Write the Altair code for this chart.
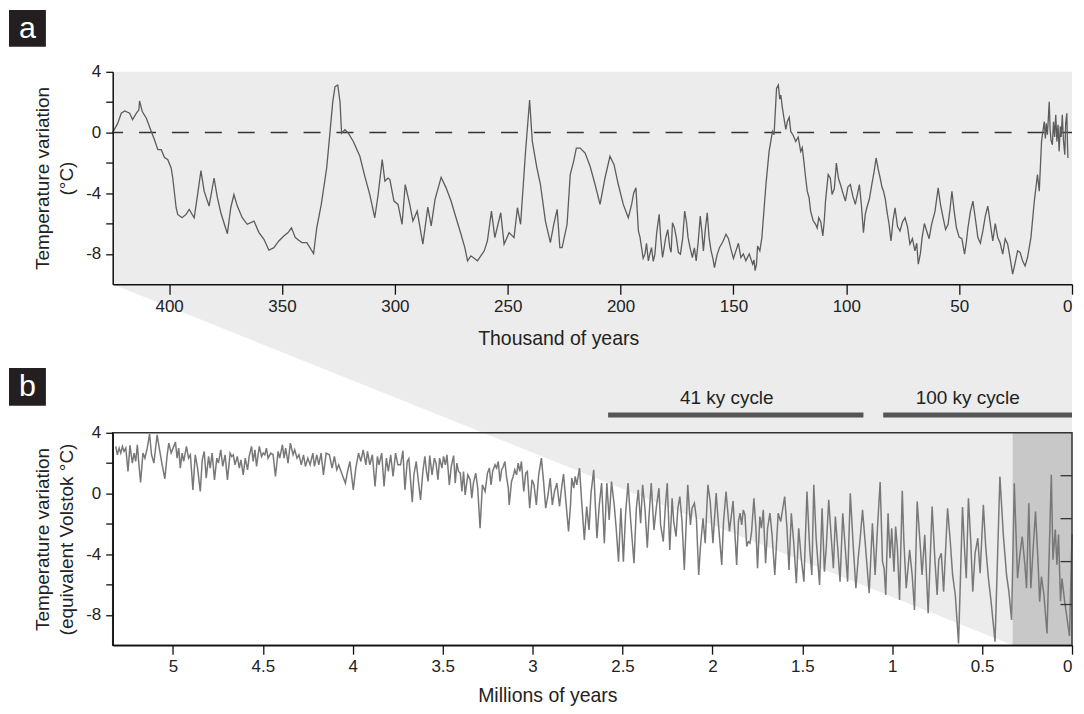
import altair as alt
import pandas as pd

# ---------------- data ----------------
# Panel a: Vostok temperature record, last 425 thousand years (age ky, dT)
A_SEG_OLD = [
    (425.0, 0.00), (422.8, 0.60), (421.2, 1.27), (419.7, 1.42), (417.5, 1.27), (416.2, 0.85), (414.5, 1.27), (413.4, 1.49), (413.1, 2.08), (411.9, 1.38),
    (410.1, 0.94), (407.9, 0.07), (406.5, -0.48), (405.0, -1.13), (403.5, -1.13), (402.1, -1.64), (400.6, -1.79), (399.1, -2.34), (398.4, -3.00), (396.9, -4.96),
    (396.2, -5.40), (394.3, -5.62), (392.5, -5.40), (391.1, -5.07), (388.9, -5.62), (387.4, -4.09), (385.9, -2.51), (384.5, -3.87), (382.3, -4.85), (380.1, -3.00),
    (378.6, -4.31), (377.1, -5.29), (374.2, -6.67), (372.7, -4.96), (371.3, -4.09), (369.8, -4.85), (367.6, -5.62), (365.4, -6.05), (362.4, -5.84), (360.2, -6.60),
    (358.0, -7.04), (355.8, -7.76), (353.6, -7.59), (351.4, -7.15), (349.2, -6.82), (347.3, -6.60), (345.8, -6.28), (344.1, -6.93), (342.6, -7.10), (341.2, -7.26),
    (339.0, -7.26), (336.0, -7.98), (334.6, -6.28), (332.6, -4.74), (330.2, -2.34), (328.7, 0.07), (327.5, 2.03), (326.5, 3.02), (325.3, 3.13), (324.3, 2.03),
    (323.6, -0.05), (322.1, 0.18), (320.6, -0.05), (318.4, -0.59), (315.5, -1.57), (313.3, -2.89), (311.1, -4.09), (308.9, -5.62), (307.4, -4.09), (305.6, -1.79),
    (304.4, -3.20), (303.0, -3.00), (302.2, -3.10), (300.4, -4.52), (298.6, -4.74), (296.8, -6.05), (295.4, -3.43), (293.4, -4.74), (292.0, -5.84), (290.1, -5.18),
    (287.6, -7.36), (285.4, -4.92), (283.9, -6.16), (282.2, -4.41), (279.5, -2.95), (277.3, -3.65), (275.1, -4.52), (272.9, -5.62), (270.7, -6.71), (269.0, -7.59),
    (267.8, -8.46), (266.3, -8.13), (263.4, -8.46), (260.4, -7.80), (259.0, -7.15), (257.2, -5.18), (255.7, -6.93), (253.1, -5.29), (251.6, -7.36), (249.4, -6.60),
    (247.2, -6.93), (245.7, -4.96), (244.3, -6.05), (242.1, -1.25), (240.3, 2.14), (239.1, -0.59), (237.2, -2.23), (235.5, -3.43), (233.3, -5.84), (231.1, -7.26),
    (229.6, -6.05), (228.1, -5.07), (226.9, -7.59), (225.9, -7.59), (223.7, -6.05), (222.3, -2.77), (220.8, -1.90), (219.6, -1.03), (217.9, -1.03), (215.7, -1.36),
    (213.5, -2.23), (211.3, -3.43), (209.1, -4.74), (206.9, -3.00), (204.7, -1.57), (202.9, -2.12), (201.0, -3.43), (198.8, -4.74), (196.6, -5.62), (195.1, -4.74),
]
A_SEG_MIS6 = [
    (194.2, -4.00), (193.2, -3.65), (192.6, -5.20), (192.1, -6.49), (191.4, -6.90), (190.7, -7.59), (190.0, -8.30), (189.2, -8.02), (188.5, -7.30), (187.7, -8.46),
    (187.0, -8.00), (186.3, -7.59), (185.5, -8.50), (184.8, -8.02), (184.0, -6.60), (182.9, -5.40), (182.2, -7.00), (181.4, -8.24), (180.7, -7.60), (180.0, -6.93),
    (179.1, -6.40), (178.2, -7.59), (177.6, -7.90), (177.0, -5.95), (176.1, -6.30), (175.3, -6.93), (174.4, -7.90), (173.5, -8.02), (172.5, -7.00), (171.6, -5.18),
    (170.8, -5.90), (170.1, -6.93), (169.2, -7.60), (168.2, -8.24), (167.3, -7.60), (166.5, -8.46), (165.6, -7.20), (164.7, -5.51), (164.0, -6.50), (163.3, -7.80),
    (162.4, -6.30), (161.6, -5.29), (160.8, -6.90), (159.9, -7.80), (159.1, -8.30), (158.4, -8.90), (157.3, -8.10), (156.2, -7.59), (154.7, -7.20), (153.3, -6.71),
    (152.2, -7.00), (151.1, -7.69), (150.0, -8.30), (148.9, -7.80), (147.8, -7.30), (146.7, -8.24), (145.6, -8.00), (144.5, -8.46), (143.0, -8.00), (141.5, -8.68),
    (140.9, -8.40), (140.4, -9.11), (139.8, -8.70), (139.3, -7.48), (138.3, -7.80), (137.4, -6.93),
]
A_SEG_EEMIAN = [
    (135.6, -3.43), (134.2, -1.25), (132.7, 0.07), (132.0, -0.15), (130.9, 2.90), (130.1, 3.13), (129.5, 2.20), (129.0, 2.47), (128.3, 1.60), (127.6, 0.94),
    (126.8, 0.20), (126.1, 0.72), (125.3, 1.00), (124.6, 0.07), (123.5, -0.20), (122.4, -0.59), (121.3, -0.30), (120.2, -1.25), (119.5, -1.00), (118.8, -1.90),
]
A_SEG_LASTGLACIAL = [
    (118.0, -3.00), (117.3, -3.87), (116.5, -4.30), (115.8, -5.18), (114.7, -5.80), (113.6, -6.05), (112.9, -6.30), (112.2, -5.62), (111.3, -5.90), (110.4, -6.82),
    (109.8, -5.90), (109.2, -4.52), (108.6, -3.60), (108.0, -2.77), (107.1, -3.00), (106.3, -4.09), (105.3, -3.70), (104.4, -2.01), (103.5, -3.00), (102.6, -3.43),
    (101.5, -4.00), (100.4, -4.52), (99.3, -3.60), (98.2, -3.43), (97.1, -4.20), (96.0, -4.74), (95.1, -4.10), (94.2, -3.43), (93.3, -4.80), (92.4, -6.60),
    (91.6, -5.40), (90.9, -4.96), (89.8, -4.40), (88.7, -3.43), (87.7, -2.60), (86.8, -1.68), (85.9, -2.40), (85.0, -3.00), (84.2, -3.60), (83.5, -3.87),
    (82.7, -4.40), (82.0, -5.18), (81.1, -6.00), (80.2, -7.15), (79.3, -5.80), (78.4, -4.96), (77.3, -6.20), (76.2, -6.49), (75.1, -5.90), (74.0, -5.62),
    (72.9, -6.20), (71.8, -7.36), (70.7, -7.00), (69.6, -7.80), (68.8, -7.30), (68.1, -8.68), (67.2, -8.00), (66.4, -6.93), (65.4, -6.00), (64.4, -6.49),
    (63.3, -7.00), (62.2, -6.05), (60.7, -5.20), (59.3, -3.65), (58.2, -4.80), (57.1, -5.62), (56.0, -6.40), (54.9, -6.05), (54.0, -5.00), (53.2, -3.87),
    (52.2, -5.20), (51.2, -6.28), (50.0, -6.90), (48.8, -7.00), (47.6, -8.02), (46.8, -7.20), (46.1, -6.28), (45.0, -5.20), (43.9, -4.52), (42.8, -5.70),
    (41.7, -6.93), (40.6, -7.30), (39.5, -6.49), (38.4, -5.50), (37.3, -4.85), (36.2, -6.00), (35.1, -7.15), (34.0, -6.00), (32.9, -6.93), (31.8, -7.30),
    (30.7, -8.02), (29.6, -7.00), (28.5, -7.36), (27.4, -8.30), (26.3, -9.33), (25.2, -8.60), (24.1, -7.80), (23.0, -7.90), (21.9, -8.46), (20.8, -8.80),
    (19.7, -8.24),
]
A_SEG_HOLOCENE = [
    (18.2, -6.93), (16.7, -4.52), (15.3, -2.77), (14.5, -3.87), (13.5, -0.59), (12.3, 0.72), (11.8, -0.40), (11.4, 0.60), (10.9, -0.15), (10.5, 0.90),
    (10.1, 2.03), (9.7, 0.20), (9.3, -0.50), (8.7, -0.81), (8.2, 0.70), (7.7, -0.30), (7.2, 1.16), (6.7, -0.60), (6.2, 0.50), (5.7, -1.25),
    (5.2, 0.40), (4.8, -0.30), (4.3, 1.16), (3.8, -0.50), (3.2, -1.46), (2.8, 0.60), (2.3, 1.27), (2.0, -0.80), (1.8, -1.68),
]

# Panel b: reconstructed temperature, last 5.3 million years
B_AGE_MY = [
    5.318, 5.309, 5.299, 5.290, 5.281, 5.272, 5.262, 5.250, 5.239, 5.226,
    5.216, 5.207, 5.198, 5.189, 5.180, 5.167, 5.156, 5.143, 5.130, 5.119,
    5.106, 5.088, 5.073, 5.060, 5.045, 5.032, 5.023, 5.010, 4.999, 4.986,
    4.977, 4.968, 4.959, 4.949, 4.940, 4.925, 4.913, 4.903, 4.889, 4.876,
    4.863, 4.848, 4.837, 4.826, 4.815, 4.802, 4.793, 4.782, 4.769, 4.756,
    4.747, 4.734, 4.723, 4.710, 4.697, 4.682, 4.673, 4.664, 4.655, 4.642,
    4.631, 4.622, 4.609, 4.598, 4.585, 4.576, 4.563, 4.554, 4.544, 4.535,
    4.520, 4.507, 4.498, 4.489, 4.480, 4.471, 4.456, 4.443, 4.430, 4.415,
    4.406, 4.391, 4.382, 4.373, 4.360, 4.347, 4.332, 4.323, 4.310, 4.299,
    4.286, 4.274, 4.263, 4.250, 4.237, 4.222, 4.213, 4.200, 4.189, 4.176,
    4.163, 4.148, 4.130, 4.115, 4.102, 4.089, 4.078, 4.065, 4.041, 4.029,
    4.016, 3.997, 3.983, 3.968, 3.955, 3.942, 3.927, 3.918, 3.905, 3.891,
    3.876, 3.863, 3.854, 3.839, 3.826, 3.813, 3.802, 3.789, 3.776, 3.762,
    3.749, 3.734, 3.721, 3.710, 3.697, 3.688, 3.669, 3.660, 3.647, 3.636,
    3.623, 3.610, 3.599, 3.590, 3.581, 3.572, 3.559, 3.546, 3.537, 3.526,
    3.517, 3.504, 3.495, 3.485, 3.476, 3.463, 3.452, 3.439, 3.430, 3.421,
    3.412, 3.402, 3.393, 3.384, 3.375, 3.360, 3.347, 3.338, 3.329, 3.316,
    3.305, 3.292, 3.279, 3.264, 3.251, 3.240, 3.231, 3.222, 3.209, 3.200,
    3.191, 3.181, 3.172, 3.163, 3.154, 3.145, 3.135, 3.130, 3.117, 3.108,
    3.099, 3.089, 3.080, 3.071, 3.062, 3.049, 3.038, 3.029, 3.016, 3.003,
    2.992, 2.979, 2.966, 2.951, 2.938, 2.927, 2.914, 2.902, 2.890, 2.878,
    2.865, 2.850, 2.841, 2.828, 2.813, 2.800, 2.789, 2.782, 2.771, 2.763,
    2.754, 2.739, 2.727, 2.712, 2.699, 2.686, 2.675, 2.660, 2.642, 2.629,
    2.616, 2.601, 2.587, 2.574, 2.561, 2.546, 2.535, 2.522, 2.509, 2.495,
    2.482, 2.469, 2.454, 2.436, 2.423, 2.412, 2.399, 2.388, 2.375, 2.362,
    2.353, 2.340, 2.325, 2.310, 2.297, 2.288, 2.273, 2.261, 2.251, 2.237,
    2.224, 2.215, 2.202, 2.192, 2.181, 2.169, 2.156, 2.137, 2.122, 2.113,
    2.100, 2.089, 2.076, 2.067, 2.052, 2.040, 2.025, 2.012, 1.997, 1.979,
    1.966, 1.948, 1.938, 1.924, 1.905, 1.885, 1.865, 1.855, 1.846, 1.837,
    1.828, 1.819, 1.809, 1.800, 1.791, 1.782, 1.769, 1.758, 1.749, 1.736,
    1.727, 1.717, 1.704, 1.693, 1.680, 1.668, 1.653, 1.634, 1.620, 1.598,
    1.585, 1.574, 1.561, 1.548, 1.533, 1.520, 1.506, 1.491, 1.474, 1.459,
    1.447, 1.436, 1.423, 1.404, 1.390, 1.377, 1.367, 1.353, 1.340, 1.327,
    1.316, 1.303, 1.290, 1.275, 1.261, 1.248, 1.233, 1.216, 1.202, 1.189,
    1.178, 1.165, 1.150, 1.128, 1.110, 1.095, 1.082, 1.067, 1.054, 1.045,
    1.036, 1.023, 1.012, 1.003, 0.990, 0.981, 0.971, 0.959, 0.944, 0.935,
    0.922, 0.903, 0.889, 0.876, 0.861, 0.843, 0.834, 0.819, 0.800, 0.778,
    0.763, 0.750, 0.741, 0.727, 0.714, 0.692, 0.677, 0.664, 0.649, 0.631,
    0.609, 0.598, 0.588, 0.576, 0.563, 0.552, 0.539, 0.524, 0.511, 0.493,
    0.480, 0.465, 0.450, 0.428, 0.401, 0.382, 0.364, 0.351, 0.336, 0.321,
    0.303, 0.290, 0.277, 0.262, 0.253, 0.240, 0.229, 0.216, 0.203, 0.189,
    0.180, 0.170, 0.156, 0.139, 0.115, 0.106, 0.093, 0.084, 0.075, 0.064,
    0.056, 0.041, 0.014, 0.000,
]
B_TEMP = [
    3.10, 2.55, 2.99, 2.66, 3.10, 2.77, 2.99, 1.45, 3.17, 2.00,
    2.66, 2.11, 3.21, 1.89, 0.72, 2.66, 2.33, 2.99, 3.92, 2.55,
    2.00, 3.87, 2.77, 1.89, 0.97, 2.55, 3.32, 2.66, 2.99, 3.39,
    2.33, 2.99, 1.67, 2.66, 2.11, 3.10, 2.33, 2.55, 0.24, 2.55,
    1.67, 0.13, 2.22, 2.77, 1.01, 2.44, 1.67, 2.66, 0.90, 2.33,
    2.00, 2.88, 1.78, 2.55, 0.90, 2.66, 2.44, 2.55, 1.89, 2.44,
    1.67, 2.22, 1.23, 2.33, 1.56, 2.44, 3.10, 2.11, 2.88, 1.78,
    3.10, 2.44, 2.66, 2.55, 2.99, 2.33, 2.66, 2.55, 1.12, 2.77,
    2.33, 3.21, 2.33, 2.99, 2.00, 3.32, 2.55, 2.88, 2.33, 2.55,
    1.89, 2.55, 1.78, 2.33, 1.89, 2.66, 1.78, 2.55, 1.89, 2.66,
    1.23, 2.66, 2.55, 1.67, 2.44, 1.56, 1.89, 1.45, 0.68, 1.45,
    2.11, 0.24, 1.67, 2.66, 2.11, 2.88, 1.89, 2.77, 1.89, 2.55,
    0.46, 2.44, 1.89, 2.66, 0.46, 2.33, 1.45, 2.55, 1.12, 2.66,
    1.89, 1.89, 2.82, 0.24, 2.11, 2.29, -0.57, 1.23, 2.11, 0.90,
    -0.42, 1.45, 2.44, 1.45, 0.79, 2.50, 1.23, 2.33, 2.00, 0.90,
    2.33, 1.67, 2.44, 1.89, 2.55, 0.57, 1.78, 2.50, 0.68, 2.00,
    1.45, 1.34, 0.13, 1.45, -0.09, 1.23, 0.90, -0.31, 0.68, 1.34,
    0.35, -2.29, 0.57, 0.13, 1.34, 1.67, 0.57, 1.45, 1.89, 1.67,
    2.11, 0.79, 1.56, 1.78, 2.11, 1.12, 0.35, -0.75, 0.79, 1.12,
    1.56, 1.23, 2.00, 1.45, 2.11, 0.13, 1.34, 1.45, -0.97, 0.90,
    0.57, -0.75, 1.23, 2.33, 0.68, -0.97, -0.09, 1.01, -0.75, 0.13,
    0.68, -0.86, 0.13, 1.28, -0.75, -2.51, -0.75, 1.01, 0.35, 1.12,
    0.57, 1.67, -0.53, -3.06, -0.86, -2.40, 0.02, 1.56, -2.95, -0.75,
    0.68, -3.28, 0.68, -1.74, 0.79, -0.75, -2.29, -4.49, -0.97, -4.49,
    -1.19, 0.68, -1.85, -4.60, -0.97, 0.24, -1.96, 0.57, -0.97, -3.57,
    -1.63, 0.68, -2.40, -0.75, 0.35, -2.07, -3.17, -0.75, 0.68, -3.72,
    -0.31, -1.85, -2.84, -0.97, -0.20, -1.85, -5.04, 0.57, -2.07, -0.97,
    -0.64, -1.63, -5.37, -3.61, -1.63, -3.28, 0.57, -0.53, -3.28, 0.02,
    -2.07, -4.71, -1.85, 0.13, -2.50, -0.50, -4.71, -1.85, -1.30, -2.07,
    -1.08, -1.41, -3.50, -3.17, -3.28, -2.51, -0.31, -2.29, -4.93, -1.52,
    -2.29, -1.08, -4.60, -2.29, -1.30, -2.73, -5.37, -1.30, -1.85, -0.20,
    -2.29, -5.04, -1.30, -3.17, -5.92, -2.29, -4.27, -5.81, 0.13, -3.61,
    -5.37, 0.57, -2.95, -6.03, -0.97, -5.15, -3.61, -0.42, -2.73, -4.93,
    -1.52, -3.61, -5.81, -1.30, -3.61, -5.81, 0.02, -3.61, -6.25, -4.27,
    -2.95, -1.08, -3.28, -6.58, -1.96, -5.37, -2.29, 0.75, -4.49, -4.93,
    -6.69, -1.30, -4.27, -2.29, -5.15, -2.18, -3.61, -7.02, 0.18, -3.17,
    -6.25, -3.72, -5.37, -7.68, -0.53, -3.61, -5.37, -2.73, -7.90, -0.86,
    -4.27, -6.69, -4.38, -3.94, -6.47, -0.97, -3.17, -5.37, -6.69, -9.88,
    -0.90, -3.61, -5.59, -0.31, -3.17, -6.47, -3.94, -2.95, -5.26, -0.75,
    -3.50, -5.59, -7.13, -9.77, 1.12, -2.73, -5.37, -6.47, -8.34, 0.68,
    -5.59, -4.05, -2.84, -4.71, -6.25, -0.64, -6.25, -3.61, -1.19, -4.49,
    -7.13, -5.48, -6.69, -9.22, 1.23, -4.36, -2.38, -4.70, -2.70, -7.10,
    -5.60, -7.10, -9.40, -2.70,
]

A_X_TICKS = [400, 350, 300, 250, 200, 150, 100, 50, 0]
B_X_TICKS = [5, 4.5, 4, 3.5, 3, 2.5, 2, 1.5, 1, 0.5, 0]
Y_TICKS = [4, 2, 0, -2, -4, -6, -8]

CYCLE_LABELS = ["41 ky cycle", "100 ky cycle"]
CYCLE_START_MY = [2.58, 1.05]
CYCLE_END_MY = [1.16, 0.0]
CYCLE_LABEL_MY = [1.92, 0.58]
CYCLE_BAR_Y = 5.18
CYCLE_TEXT_Y = 5.9

ZOOM_START_MY = 0.33
ZOOM_TICK_Y = [1.17, -1.66, -4.49, -7.32]
ZOOM_TICK_LEN_MY = 0.064

# ---------------- layout / style ----------------
FONT = "Liberation Sans"
W, H, GAP = 962, 213, 149
A_MAX, B_MAX = 425, 5.335
Y_MIN, Y_MAX = -10, 4
TXT = "#222222"
AX = "#111111"


def y_axis(title):
    return alt.Axis(
        values=Y_TICKS,
        labelExpr="datum.value % 4 == 0 ? toString(datum.value) : ''",
        title=title, titleAngle=270, titleX=-70, titleY=H / 2,
        titleAlign="center", titleBaseline="middle", titleLineHeight=24,
        titleFontSize=19,
        tickSize=7, labelPadding=5, grid=False, zindex=1, labelOverlap=False,
    )


def x_axis(values, title, title_y, tick):
    return alt.Axis(
        values=values, labelExpr="toString(datum.value)",
        title=title, titleX=366, titleY=title_y, titleAlign="left",
        titleBaseline="alphabetic", titleFontSize=19.5, tickSize=tick, labelPadding=4,
        grid=False, zindex=1, labelFlush=True, labelOverlap=False,
    )


# ---------------- panel a ----------------
a_points = A_SEG_OLD + A_SEG_MIS6 + A_SEG_EEMIAN + A_SEG_LASTGLACIAL + A_SEG_HOLOCENE
dfa = pd.DataFrame(a_points, columns=["ky", "t"])

sa_x = alt.Scale(domain=[0, A_MAX], reverse=True, nice=False, zero=False)
sa_y = alt.Scale(domain=[Y_MIN, Y_MAX], nice=False, zero=False)
ax_a = x_axis(A_X_TICKS, "Thousand of years", 60, 10)
ay_a = y_axis(["Temperature variation", "(°C)"])


def xa(f):
    return alt.X(f, type="quantitative", scale=sa_x, axis=ax_a)


def ya(f):
    return alt.Y(f, type="quantitative", scale=sa_y, axis=ay_a)


wedge_ky = A_MAX * ZOOM_START_MY / B_MAX
wedge_low = Y_MIN - (H + GAP) / H * (Y_MAX - Y_MIN)
wedge_df = pd.DataFrame({
    "ky": [A_MAX, wedge_ky, 0],
    "top": [Y_MAX, Y_MAX, Y_MAX],
    "bot": [Y_MIN, wedge_low, wedge_low],
})
zero_df = pd.DataFrame({"x0": [A_MAX], "x1": [0], "y": [0]})
lab_a = pd.DataFrame({"label": ["a"]})

wedge = alt.Chart(wedge_df).mark_area(color="#ececec", opacity=1).encode(
    x=xa("ky"), y=ya("top"), y2="bot")
zero_line = alt.Chart(zero_df).mark_rule(
    color="#333333", strokeWidth=1.3, strokeDash=[17, 16], strokeDashOffset=6.6
).encode(x=xa("x0"), x2="x1", y=ya("y"))
line_a = alt.Chart(dfa).mark_line(color="#5c5c5c", strokeWidth=1.3).encode(
    x=xa("ky"), y=ya("t"))
box_a = alt.Chart(lab_a).mark_rect(color="#231f20").encode(
    x=alt.value(-104), x2=alt.value(-67), y=alt.value(-62), y2=alt.value(-25))
txt_a = alt.Chart(lab_a).mark_text(
    color="white", fontSize=30.5, baseline="alphabetic", align="center", font=FONT
).encode(x=alt.value(-85.5), y=alt.value(-34), text="label:N")

panel_a = alt.layer(wedge, zero_line, line_a, box_a, txt_a).properties(width=W, height=H)

# ---------------- panel b ----------------
sb_x = alt.Scale(domain=[0, B_MAX], reverse=True, nice=False, zero=False)
sb_y = alt.Scale(domain=[Y_MIN, Y_MAX], nice=False, zero=False)
ax_b = x_axis(B_X_TICKS, "Millions of years", 56, 9)
ay_b = y_axis(["Temperature variation", "(equivalent Volstok °C)"])


def xb(f):
    return alt.X(f, type="quantitative", scale=sb_x, axis=ax_b)


def yb(f):
    return alt.Y(f, type="quantitative", scale=sb_y, axis=ay_b)


dfb = pd.DataFrame({"my": B_AGE_MY, "t": B_TEMP})
zoom_df = pd.DataFrame({"x0": [ZOOM_START_MY], "x1": [0], "y0": [Y_MIN], "y1": [Y_MAX]})
frame_df = pd.DataFrame({"x0": [B_MAX], "x1": [0], "y0": [Y_MIN], "y1": [Y_MAX]})
ztick_df = pd.DataFrame({"x0": [ZOOM_TICK_LEN_MY] * len(ZOOM_TICK_Y),
                         "x1": [0] * len(ZOOM_TICK_Y), "y": ZOOM_TICK_Y})
cyc_df = pd.DataFrame({"x0": CYCLE_START_MY, "x1": CYCLE_END_MY,
                       "y": [CYCLE_BAR_Y] * 2, "xl": CYCLE_LABEL_MY,
                       "yl": [CYCLE_TEXT_Y] * 2, "label": CYCLE_LABELS})
lab_b = pd.DataFrame({"label": ["b"]})

zoom_rect = alt.Chart(zoom_df).mark_rect(color="#c8c8c8").encode(
    x=xb("x0"), x2="x1", y=yb("y0"), y2="y1")
line_b = alt.Chart(dfb).mark_line(color="#787878", strokeWidth=1.5).encode(
    x=xb("my"), y=yb("t"))
zticks = alt.Chart(ztick_df).mark_rule(color="#333333", strokeWidth=1.3).encode(
    x=xb("x0"), x2="x1", y=yb("y"))
frame = alt.Chart(frame_df).mark_rect(filled=False, color="#333333", strokeWidth=1.5).encode(
    x=xb("x0"), x2="x1", y=yb("y0"), y2="y1")
cyc_bars = alt.Chart(cyc_df).mark_rule(color="#555555", strokeWidth=5, strokeCap="butt").encode(
    x=xb("x0"), x2="x1", y=yb("y"))
cyc_text = alt.Chart(cyc_df).mark_text(
    color=TXT, fontSize=19, baseline="alphabetic", align="center", font=FONT
).encode(x=xb("xl"), y=yb("yl"), text="label:N")
box_b = alt.Chart(lab_b).mark_rect(color="#231f20").encode(
    x=alt.value(-104), x2=alt.value(-67), y=alt.value(-65), y2=alt.value(-27))
txt_b = alt.Chart(lab_b).mark_text(
    color="white", fontSize=30.5, baseline="alphabetic", align="center", font=FONT
).encode(x=alt.value(-85.5), y=alt.value(-37), text="label:N")

panel_b = alt.layer(zoom_rect, line_b, zticks, frame, cyc_bars, cyc_text, box_b, txt_b).properties(
    width=W, height=H)

chart = alt.vconcat(panel_a, panel_b, spacing=GAP, bounds="flush").properties(
    padding=0, autosize=alt.AutoSizeParams(type="pad")
).configure(padding=0).configure_view(stroke="transparent").configure_axis(
    labelFont=FONT, labelFontSize=17, labelColor=TXT,
    titleFont=FONT, titleFontWeight="normal", titleColor=TXT,
    domainColor=AX, domainWidth=1.5, tickColor=AX, tickWidth=1.3,
).configure_text(font=FONT)

chart.save("out.html", embed_options={"renderer": "svg", "actions": False})
